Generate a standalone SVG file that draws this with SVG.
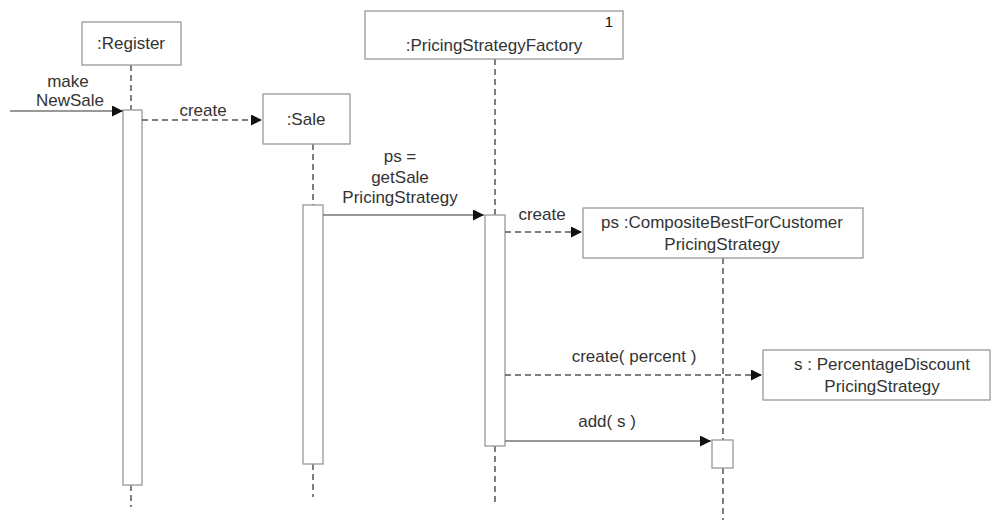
<svg xmlns="http://www.w3.org/2000/svg" width="992" height="520" viewBox="0 0 992 520">
<defs>
<marker id="ah" viewBox="0 0 10 10" refX="10" refY="5" markerWidth="11" markerHeight="11" markerUnits="userSpaceOnUse" orient="auto">
<path d="M0,0 L10,5 L0,10 Z" fill="#111"/>
</marker>
<style>
text{font-family:"Liberation Sans",Arial,sans-serif;font-size:17px;fill:#333;}
.box{fill:#fff;stroke:#999;stroke-width:1.3;}
.act{fill:#fff;stroke:#999;stroke-width:1.3;}
.life{stroke:#555;stroke-width:1.5;stroke-dasharray:6,4;fill:none;}
.msg{stroke:#777;stroke-width:1.3;fill:none;marker-end:url(#ah);}
.dash{stroke:#555;stroke-width:1.5;stroke-dasharray:6,4;fill:none;marker-end:url(#ah);}
.c{text-anchor:middle;}
</style>
</defs>
<rect width="992" height="520" fill="#fff"/>
<g id="lifelines">
<path class="life" d="M131,65 V110 M131,485 V507"/>
<path class="life" d="M313,144 V205 M313,464 V497"/>
<path class="life" d="M495,59 V215 M495,446 V502"/>
<path class="life" d="M723,258 V440 M723,468 V520"/>
</g>
<g id="register">
<rect class="box" x="82" y="22" width="99" height="43"/>
<text class="c" x="131" y="49">:Register</text>
<rect class="act" x="123" y="110" width="19" height="375"/>
</g>
<g id="sale">
<rect class="box" x="263" y="94" width="87" height="50"/>
<text class="c" x="306" y="125">:Sale</text>
<rect class="act" x="303" y="205" width="20" height="259"/>
</g>
<g id="factory">
<rect class="box" x="365" y="11" width="258" height="48"/>
<text x="613" y="27" style="text-anchor:end;font-size:15px;fill:#111">1</text>
<text class="c" x="494" y="51">:PricingStrategyFactory</text>
<rect class="act" x="485" y="215" width="20" height="231"/>
</g>
<g id="composite">
<rect class="box" x="583" y="208" width="280" height="50"/>
<text class="c" x="722" y="228">ps :CompositeBestForCustomer</text>
<text class="c" x="722" y="250">PricingStrategy</text>
<rect class="act" x="712" y="440" width="21" height="28"/>
</g>
<g id="percentage">
<rect class="box" x="763" y="350" width="227" height="50"/>
<text class="c" x="882" y="370">s : PercentageDiscount</text>
<text class="c" x="882" y="392">PricingStrategy</text>
</g>
<g id="connectors">
<line class="msg" x1="10" y1="111" x2="123" y2="111"/>
<text class="c" x="68" y="87">make</text>
<text class="c" x="70" y="106">NewSale</text>
<line class="dash" x1="142" y1="120" x2="262" y2="120"/>
<text class="c" x="203" y="116">create</text>
<line class="msg" x1="323" y1="215" x2="484" y2="215"/>
<text class="c" x="400" y="162">ps =</text>
<text class="c" x="400" y="183">getSale</text>
<text class="c" x="400" y="203">PricingStrategy</text>
<line class="dash" x1="505" y1="232" x2="582" y2="232"/>
<text class="c" x="542" y="220">create</text>
<line class="dash" x1="505" y1="375" x2="762" y2="375"/>
<text class="c" x="634" y="362">create( percent )</text>
<line class="msg" x1="505" y1="441" x2="711" y2="441"/>
<text class="c" x="607" y="427">add( s )</text>
</g>
</svg>
